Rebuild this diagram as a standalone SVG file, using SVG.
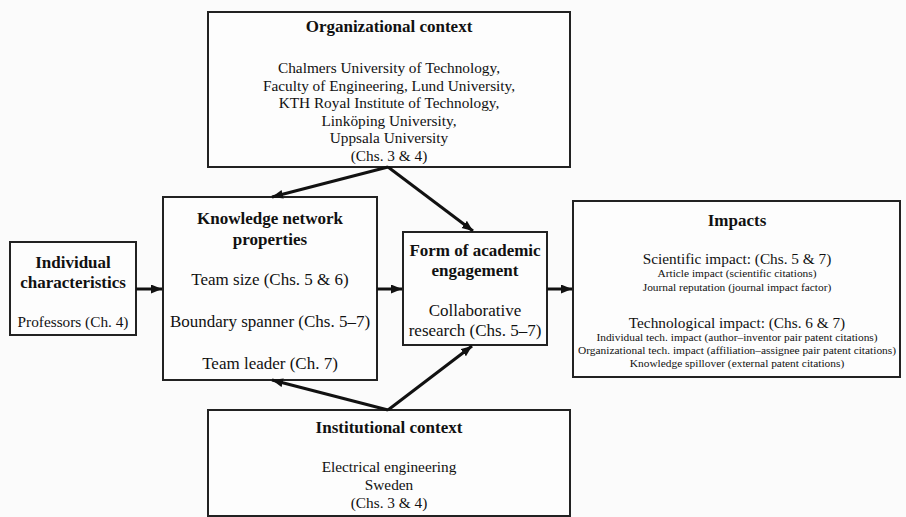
<svg xmlns="http://www.w3.org/2000/svg" width="906" height="517" viewBox="0 0 906 517">
<style>
.box{fill:#fdfdfd;stroke:#222;stroke-width:2}
text{font-family:"Liberation Serif","Times New Roman",serif;fill:#111;text-anchor:middle}
.t{font-size:17px;font-weight:bold}
.b{font-size:15.3px}
.m{font-size:17px}
.s{font-size:11.4px}
.c{stroke:#111;stroke-width:3;fill:none;marker-end:url(#ah)}
</style>
<defs>
<marker id="ah" markerUnits="userSpaceOnUse" markerWidth="12" markerHeight="10" refX="11" refY="4.5" orient="auto">
<path d="M0,0 L11,4.5 L0,9 z" fill="#111"/>
</marker>
</defs>
<rect width="906" height="517" fill="#fbfbfb"/>
<g id="org">
<rect class="box" x="208" y="12" width="362" height="155"/>
<text class="t" x="389" y="32">Organizational context</text>
<text class="b" x="389" y="73">Chalmers University of Technology,</text>
<text class="b" x="389" y="90.5">Faculty of Engineering, Lund University,</text>
<text class="b" x="389" y="108">KTH Royal Institute of Technology,</text>
<text class="b" x="389" y="125.5">Linköping University,</text>
<text class="b" x="389" y="143">Uppsala University</text>
<text class="b" x="389" y="160.5">(Chs. 3 &amp; 4)</text>
</g>
<g id="individual">
<rect class="box" x="10" y="242" width="126" height="93"/>
<text class="t" x="73" y="268">Individual</text>
<text class="t" x="73" y="288">characteristics</text>
<text class="b" x="73" y="327">Professors (Ch. 4)</text>
</g>
<g id="knowledge">
<rect class="box" x="163" y="197" width="214" height="183"/>
<text class="t" x="270" y="224">Knowledge network</text>
<text class="t" x="270" y="245">properties</text>
<text class="m" x="270" y="285">Team size (Chs. 5 &amp; 6)</text>
<text class="m" x="270" y="327">Boundary spanner (Chs. 5–7)</text>
<text class="m" x="270" y="369">Team leader (Ch. 7)</text>
</g>
<g id="form">
<rect class="box" x="403" y="232" width="144" height="113"/>
<text class="t" x="475" y="256">Form of academic</text>
<text class="t" x="475" y="276">engagement</text>
<text class="m" x="475" y="316">Collaborative</text>
<text class="m" x="475" y="336">research (Chs. 5–7)</text>
</g>
<g id="impacts">
<rect class="box" x="573" y="201" width="327" height="176"/>
<text class="t" x="737" y="226">Impacts</text>
<text class="b" x="737" y="264">Scientific impact: (Chs. 5 &amp; 7)</text>
<text class="s" x="737" y="277">Article impact (scientific citations)</text>
<text class="s" x="737" y="291">Journal reputation (journal impact factor)</text>
<text class="b" x="737" y="328">Technological impact: (Chs. 6 &amp; 7)</text>
<text class="s" x="737" y="341">Individual tech. impact (author–inventor pair patent citations)</text>
<text class="s" x="737" y="354">Organizational tech. impact (affiliation–assignee pair patent citations)</text>
<text class="s" x="737" y="367">Knowledge spillover (external patent citations)</text>
</g>
<g id="institutional">
<rect class="box" x="208" y="410" width="362" height="106"/>
<text class="t" x="389" y="433">Institutional context</text>
<text class="b" x="389" y="472">Electrical engineering</text>
<text class="b" x="389" y="490">Sweden</text>
<text class="b" x="389" y="508">(Chs. 3 &amp; 4)</text>
</g>
<g id="connectors">
<line class="c" x1="136" y1="289" x2="162" y2="289"/>
<line class="c" x1="377" y1="289" x2="402" y2="289"/>
<line class="c" x1="547" y1="289" x2="572" y2="289"/>
<line class="c" x1="388" y1="167" x2="272" y2="197"/>
<line class="c" x1="388" y1="167" x2="473" y2="231"/>
<line class="c" x1="388" y1="410" x2="272" y2="380"/>
<line class="c" x1="388" y1="410" x2="472" y2="346"/>
</g>
</svg>
